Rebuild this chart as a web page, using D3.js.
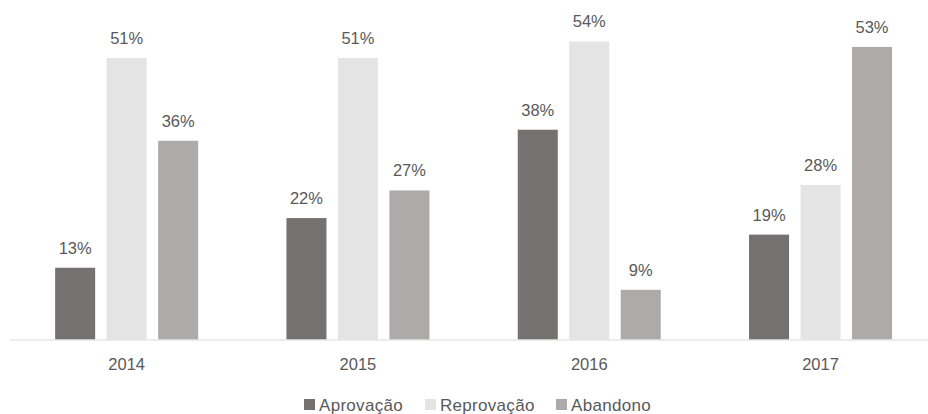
<!DOCTYPE html>
<html lang="pt">

<head>
  <meta charset="UTF-8">
  <title>Aprovação, Reprovação, Abandono</title>
  <style>
    body { margin: 0; background: #fff; }
    text { font-family: "Liberation Sans", Arial, sans-serif; fill: #595959; }
  </style>
</head>

<body>
  <svg id="svg" width="928" height="414"></svg>

  <script src="https://d3js.org/d3.v7.min.js"></script>
  <script>
    const years = ["2014", "2015", "2016", "2017"]
    const seriesNames = ["Aprovação", "Reprovação", "Abandono"]
    const aprovacao = [13, 22, 38, 19]
    const reprovacao = [51, 51, 54, 28]
    const abandono = [36, 27, 9, 53]
    const colors = ["#767171", "#e4e4e4", "#aeaaaa"]

    const series = [aprovacao, reprovacao, abandono]
    const rows = []
    years.forEach((y, i) => {
      seriesNames.forEach((s, j) => rows.push({ year: y, name: s, value: series[j][i] }))
    })

    const baseY = 339.5
    const svg = d3.select("#svg")

    const xScale = d3.scaleBand()
      .domain(years)
      .range([11, 11 + 4 * 231.3])

    const inner = d3.scaleBand()
      .domain(seriesNames)
      .range([0, 143])
      .paddingInner(0.223)

    const yScale = d3.scaleLinear()
      .domain([0, 60])
      .range([baseY, baseY - 60 * 5.52])

    const colorScale = d3.scaleOrdinal()
      .domain(seriesNames)
      .range(colors)

    const groupX = d => xScale(d.year) + xScale.bandwidth() / 2 - 71.5 + inner(d.name)

    // bars
    svg.selectAll("rect.bar")
      .data(rows)
      .enter()
      .append("rect")
      .attr("class", "bar")
      .attr("x", d => groupX(d))
      .attr("y", d => yScale(d.value))
      .attr("width", inner.bandwidth())
      .attr("height", d => baseY - yScale(d.value))
      .attr("fill", d => colorScale(d.name))

    // value labels
    svg.selectAll("text.lbl")
      .data(rows)
      .enter()
      .append("text")
      .attr("class", "lbl")
      .attr("x", d => groupX(d) + inner.bandwidth() / 2)
      .attr("y", d => yScale(d.value) - 14)
      .attr("text-anchor", "middle")
      .style("font-size", "16.5px")
      .text(d => d.value + "%")

    // x axis
    const xAxis = svg.append("g")
      .attr("transform", `translate(0,${baseY})`)
      .call(d3.axisBottom(xScale).tickSize(0).tickPadding(19))
    xAxis.select(".domain").attr("stroke", "#d9d9d9").attr("d", "M10,0.5H928")
    xAxis.selectAll("text")
      .style("font-size", "16.5px")
      .style("fill", "#595959")
      .style("font-family", "Liberation Sans, Arial, sans-serif")

    // legend
    const legendX = [304, 425, 556]
    const legend = svg.selectAll("g.leg")
      .data(seriesNames)
      .enter()
      .append("g")
      .attr("class", "leg")
      .attr("transform", (d, i) => `translate(${legendX[i]},0)`)
    legend.append("rect")
      .attr("x", 0)
      .attr("y", 399)
      .attr("width", 11)
      .attr("height", 11)
      .attr("fill", d => colorScale(d))
    legend.append("text")
      .attr("x", 15)
      .attr("y", 411)
      .style("font-size", "17px")
      .style("letter-spacing", "0.3px")
      .text(d => d)
  </script>
</body>

</html>
